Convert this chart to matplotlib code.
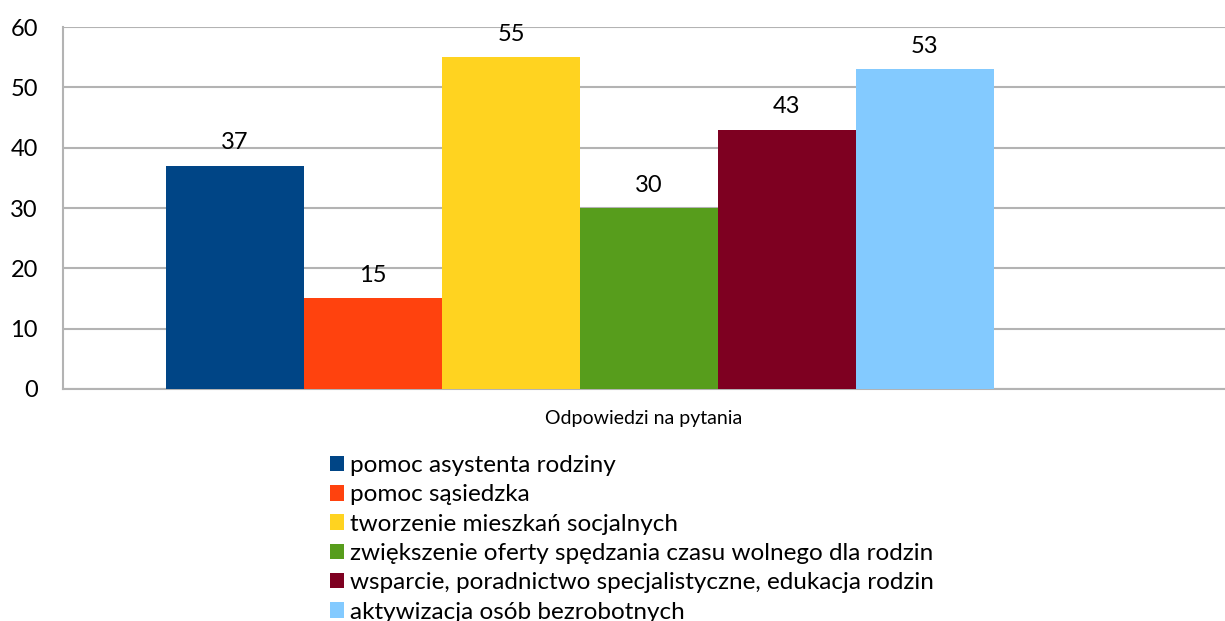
import matplotlib
matplotlib.use("Agg")
import matplotlib.pyplot as plt
from matplotlib.patches import Patch

plt.rcParams['font.family'] = ['Lato', 'DejaVu Sans']

categories = [
    "pomoc asystenta rodziny",
    "pomoc sąsiedzka",
    "tworzenie mieszkań socjalnych",
    "zwiększenie oferty spędzania czasu wolnego dla rodzin",
    "wsparcie, poradnictwo specjalistyczne, edukacja rodzin",
    "aktywizacja osób bezrobotnych",
]
values = [37, 15, 55, 30, 43, 53]
colors = ["#004586", "#ff420e", "#ffd320", "#579d1c", "#7e0021", "#83caff"]
y_ticks = [0, 10, 20, 30, 40, 50, 60]

fig = plt.figure(figsize=(12.25, 6.21), dpi=100)
ax = fig.add_axes([0.0514, 0.3736, 0.9486, 0.5829])

positions = [i - 2.5 for i in range(len(values))]
for x, v, c in zip(positions, values, colors):
    ax.bar(x, v, width=1.0, color=c, zorder=3)
    ax.annotate(str(v), (x, v), xytext=(0, 9), textcoords="offset points",
                ha="center", va="bottom", fontsize=17, color="black")

ax.set_xlim(-3.746, 4.674)
ax.set_ylim(0, 60)
ax.set_yticks(y_ticks)
ax.set_xticks([])
ax.tick_params(axis="y", length=0, labelsize=17, pad=18)

ax.grid(axis="y", color="#b3b3b3", linewidth=1.5, zorder=0)
ax.spines["top"].set_visible(False)
ax.spines["right"].set_visible(False)
ax.spines["left"].set_color("#b3b3b3")
ax.spines["bottom"].set_color("#b3b3b3")
ax.spines["left"].set_linewidth(1.5)
ax.spines["bottom"].set_linewidth(1.5)

ax.set_xlabel("Odpowiedzi na pytania", fontsize=14, labelpad=15)

handles = [Patch(facecolor=c, edgecolor="none") for c in colors]
fig.legend(handles, categories, loc="upper left", bbox_to_anchor=(0.269, 0.267),
           frameon=False, fontsize=17.5, labelspacing=0.34, handlelength=0.6,
           handleheight=0.6, handletextpad=0.25, borderpad=0, borderaxespad=0)

fig.savefig("out.png", dpi=100)
